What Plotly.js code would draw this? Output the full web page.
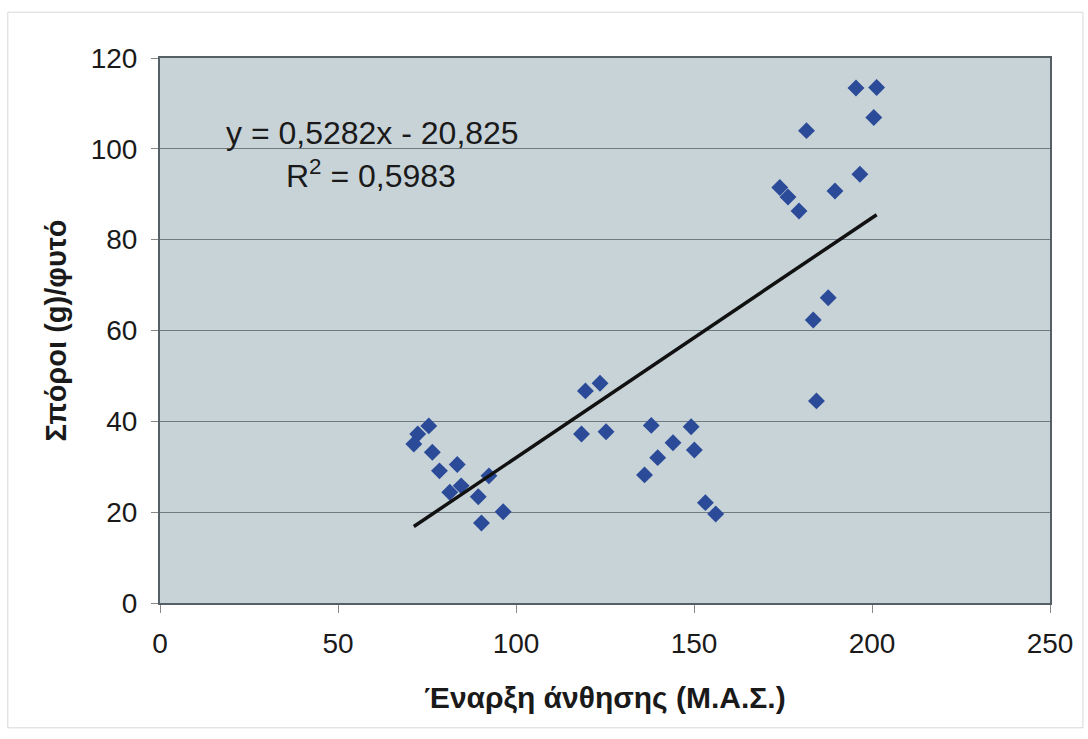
<!DOCTYPE html>
<html>
<head>
<meta charset="utf-8">
<script src="https://cdn.plot.ly/plotly-3.0.1.min.js"></script>
<style>
html,body{margin:0;padding:0;background:#fff;}
#chart{width:1088px;height:739px;}
</style>
</head>
<body>
<div id="chart"></div>
<script>
// Data
var floweringStart = [75.5, 72.4, 71.3, 76.5, 83.5, 78.5, 92.4, 84.6, 81.4, 89.4, 96.4, 90.3,
                      119.5, 123.6, 118.4, 125.3, 138.0, 149.2, 144.1, 150.1, 139.8, 136.1, 153.2, 156.1,
                      195.5, 201.3, 200.5, 181.6, 196.6, 189.6, 174.1, 176.4, 179.5, 187.7, 183.5, 184.4];
var seedsPerPlant = [39.0, 37.2, 35.0, 33.2, 30.5, 29.1, 28.0, 25.8, 24.4, 23.4, 20.1, 17.6,
                     46.7, 48.4, 37.2, 37.7, 39.1, 38.8, 35.3, 33.7, 32.0, 28.2, 22.1, 19.6,
                     113.4, 113.5, 106.9, 104.0, 94.4, 90.7, 91.5, 89.4, 86.3, 67.2, 62.3, 44.5];
var trendSlope = 0.5282;
var trendIntercept = -20.825;
var equationText = "y = 0,5282x - 20,825";
var r2Text = "R<sup>2</sup> = 0,5983";
var xTicks = [0, 50, 100, 150, 200, 250];
var yTicks = [0, 20, 40, 60, 80, 100, 120];
var xTitle = "Έναρξη άνθησης (Μ.Α.Σ.)";
var yTitle = "Σπόροι (g)/φυτό";

var xMin = Math.min.apply(null, floweringStart);
var xMax = Math.max.apply(null, floweringStart);
var trendX = [xMin, xMax];
var trendY = trendX.map(function(v){ return trendSlope * v + trendIntercept; });

var font = "Liberation Sans, Arial, sans-serif";

var traces = [
  {
    x: floweringStart, y: seedsPerPlant, type: 'scatter', mode: 'markers',
    marker: {symbol: 'diamond', size: 13, color: '#2b4b98', line: {width: 0}},
    hoverinfo: 'x+y'
  },
  {
    x: trendX, y: trendY, type: 'scatter', mode: 'lines',
    line: {color: '#111111', width: 3.5}, hoverinfo: 'skip'
  }
];

var layout = {
  width: 1088, height: 739,
  margin: {l: 160, r: 38, t: 58, b: 136},
  paper_bgcolor: '#ffffff',
  plot_bgcolor: '#c8d3d8',
  showlegend: false,
  font: {family: font, color: '#1a1a1a', size: 28},
  xaxis: {
    range: [0, 250], tickvals: xTicks, ticktext: xTicks.map(String),
    showgrid: false, zeroline: false,
    showline: true, linecolor: '#556066', linewidth: 2, mirror: true,
    ticks: 'outside', ticklen: 8, tickcolor: '#888', tickwidth: 1,
    ticklabelstandoff: 6,
    tickfont: {family: font, size: 28, color: '#1a1a1a'},
    title: {text: xTitle, font: {family: font, size: 30, color: '#1a1a1a', weight: 'bold'}, standoff: 29}
  },
  yaxis: {
    range: [0, 120], tickvals: yTicks, ticktext: yTicks.map(String),
    showgrid: true, gridcolor: '#6f7a80', gridwidth: 1, zeroline: false,
    showline: true, linecolor: '#556066', linewidth: 2, mirror: true,
    ticks: 'outside', ticklen: 7, tickcolor: '#888', tickwidth: 1,
    ticklabelstandoff: 8,
    tickfont: {family: font, size: 28, color: '#1a1a1a'},
    title: {text: yTitle, font: {family: font, size: 29, color: '#1a1a1a', weight: 'bold'}, standoff: 16}
  },
  annotations: [
    {x: 0.072, y: 0.862, xref: 'paper', yref: 'paper', text: equationText, showarrow: false,
     xanchor: 'left', yanchor: 'middle', font: {family: font, size: 32, color: '#1a1a1a'}},
    {x: 0.139, y: 0.787, xref: 'paper', yref: 'paper', text: r2Text, showarrow: false,
     xanchor: 'left', yanchor: 'middle', font: {family: font, size: 32, color: '#1a1a1a'}}
  ],
  shapes: [
    {type: 'rect', xref: 'paper', yref: 'paper', x0: -0.171, x1: 1.037, y0: -0.229, y1: 1.084,
     line: {color: '#d8d8d8', width: 1}, fillcolor: 'rgba(0,0,0,0)', layer: 'below'}
  ]
};

Plotly.newPlot('chart', traces, layout, {displayModeBar: false, staticPlot: true});
</script>
</body>
</html>
